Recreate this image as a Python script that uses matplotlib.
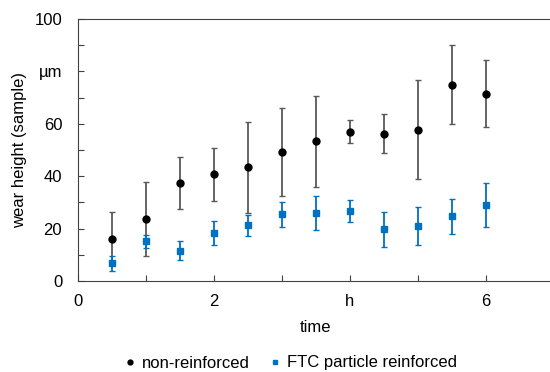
import numpy as np
import matplotlib.pyplot as plt

plt.rcParams['font.family'] = ['Liberation Sans', 'DejaVu Sans']
plt.rcParams['font.size'] = 10

t = [0.5, 1, 1.5, 2, 2.5, 3, 3.5, 4, 4.5, 5, 5.5, 6]

# non-reinforced: mean, upper, lower
plain_mean = [16.0, 23.7, 37.4, 40.7, 43.4, 49.4, 53.4, 57.0, 56.2, 57.8, 74.9, 71.5]
plain_top = [26.2, 37.9, 47.4, 50.9, 60.7, 66.2, 70.7, 61.5, 63.9, 76.6, 90.2, 84.2]
plain_bot = [6.0, 9.5, 27.5, 30.6, 26.0, 32.6, 36.0, 52.7, 48.9, 38.8, 59.9, 58.9]

# FTC particle reinforced
ftc_mean = [6.7, 15.1, 11.6, 18.4, 21.2, 25.4, 26.1, 26.6, 19.7, 21.1, 24.7, 29.1]
ftc_top = [9.5, 17.6, 15.1, 23.0, 25.2, 30.2, 32.4, 30.8, 26.3, 28.4, 31.3, 37.5]
ftc_bot = [3.9, 12.5, 7.9, 13.9, 17.2, 20.5, 19.6, 22.5, 13.1, 13.7, 18.1, 20.5]

xticks = [0, 2, 4, 6]
xticklabels = ['0', '2', 'h', '6']
yticks = [0, 20, 40, 60, 80, 100]
yticklabels = ['0', '20', '40', '60', 'µm', '100']

fig = plt.figure(figsize=(5.5, 3.72), dpi=100)
ax = fig.add_axes([77.5 / 550, 1 - 281 / 372, (554 - 77.5) / 550, 262 / 372])

pm = np.array(plain_mean)
fm = np.array(ftc_mean)
ax.errorbar(t, pm, yerr=[pm - np.array(plain_bot), np.array(plain_top) - pm],
            fmt='o', color='black', ms=5, ecolor='#595959', elinewidth=1.3,
            capsize=2.5, capthick=1, label='non-reinforced', zorder=3)
ax.errorbar(t, fm, yerr=[fm - np.array(ftc_bot), np.array(ftc_top) - fm],
            fmt='s', color='#0070C0', ms=5, ecolor='#0070C0', elinewidth=1.3,
            capsize=2.5, capthick=1, label='FTC particle reinforced', zorder=3)

ax.set_xlim(0, 7)
ax.set_ylim(0, 100)
ax.set_xticks(xticks)
ax.set_xticklabels(xticklabels)
ax.set_xticks(np.arange(0, 8, 1), minor=True)
ax.set_yticks(yticks)
ax.set_yticklabels(yticklabels)
ax.set_yticks(np.arange(0, 101, 10), minor=True)
ax.tick_params(which='both', direction='in', length=4, width=0.8, color='#404040')
ax.tick_params(axis='x', which='major', pad=9, labelsize=12)
ax.tick_params(axis='y', which='major', pad=11, labelsize=12)
for s in ax.spines.values():
    s.set_color('#404040')

ax.set_xlabel('time', fontsize=12, labelpad=8)
ax.set_ylabel('wear height (sample)', fontsize=12, labelpad=5)

h, l = ax.get_legend_handles_labels()
h = [hh[0] for hh in h]
fig.legend(h, l, loc='center', bbox_to_anchor=(291 / 550, 1 - 363 / 372), ncol=2,
           frameon=False, fontsize=12, markerscale=0.7, handlelength=0.6,
           handletextpad=0.4, columnspacing=1.2)

fig.savefig('out.png', dpi=100)
